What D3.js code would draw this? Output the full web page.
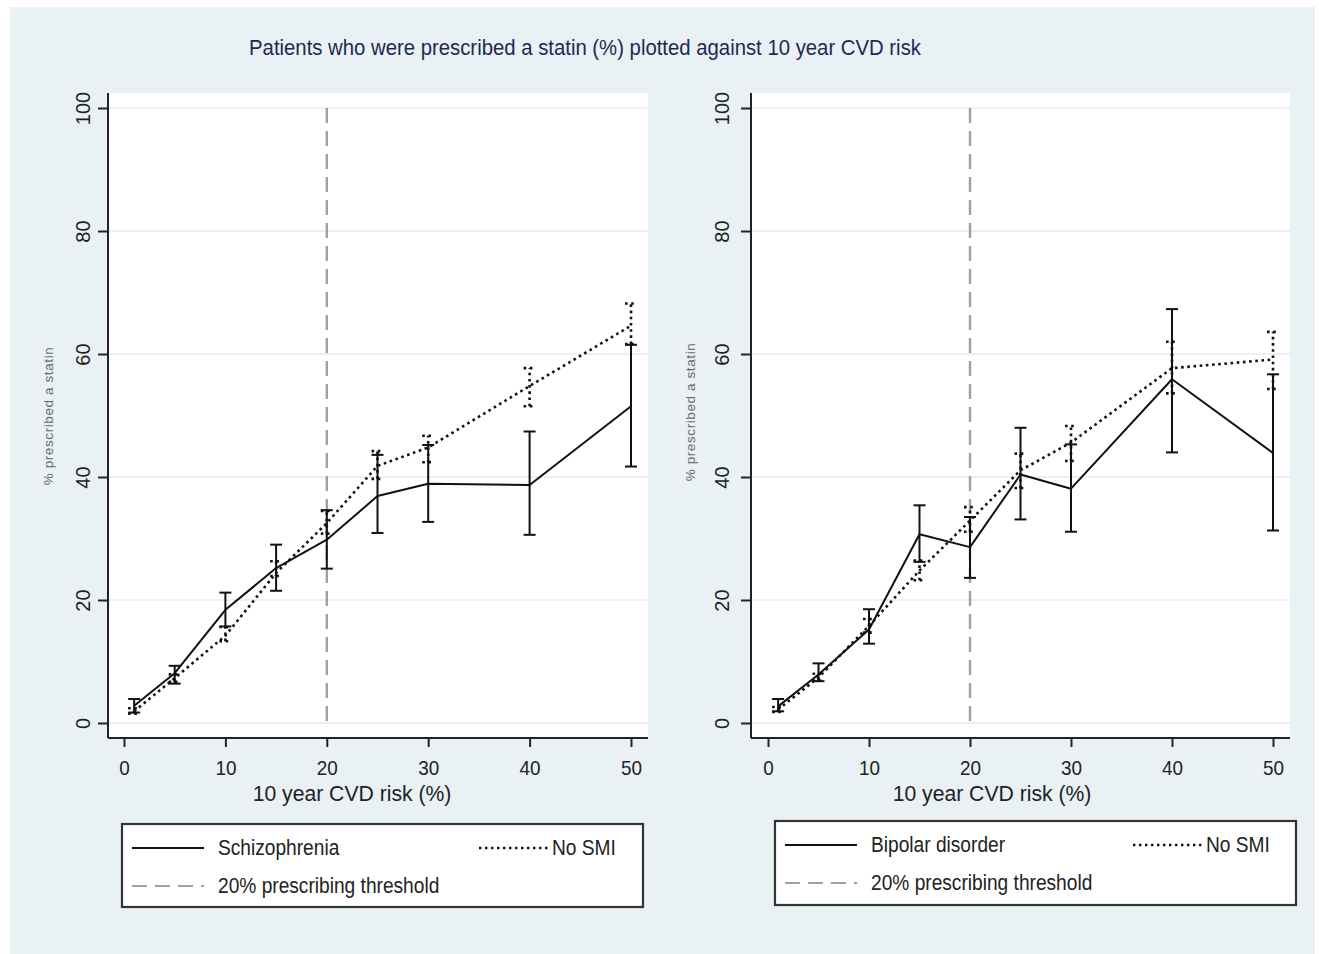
<!DOCTYPE html>
<html>
<head>
<meta charset="utf-8">
<script src="https://cdn.jsdelivr.net/npm/d3@7"></script>
<style>
  html, body { margin: 0; padding: 0; background: #ffffff; }
  svg { display: block; }
  text { font-family: "Liberation Sans", Arial, sans-serif; }
</style>
</head>
<body>
<svg id="chart" width="1319" height="954"></svg>
<script>
// 10-year CVD risk bands (%)
const riskBands = [1, 5, 10, 15, 20, 25, 30, 40, 50];
const xTicks = [0, 10, 20, 30, 40, 50];
const yTicks = [0, 20, 40, 60, 80, 100];
const threshold = 20;

// Schizophrenia vs no SMI: % prescribed a statin with 95% CI
const schizMean = [2.8, 8.1, 18.4, 25.2, 29.8, 36.9, 38.9, 38.7, 51.5];
const schizLow  = [1.7, 6.4, 15.7, 21.5, 25.1, 30.9, 32.7, 30.6, 41.7];
const schizHigh = [3.9, 9.3, 21.2, 29.0, 34.6, 43.6, 45.2, 47.4, 61.5];

const noSmiAMean = [1.9, 7.3, 14.2, 24.4, 32.5, 41.8, 44.8, 54.8, 64.6];
const noSmiALow  = [1.5, 6.7, 13.3, 23.9, 30.8, 39.7, 42.4, 51.5, 61.6];
const noSmiAHigh = [2.4, 7.9, 15.6, 26.3, 34.5, 44.2, 46.7, 57.7, 68.2];

// Bipolar disorder vs no SMI
const bipolarMean = [2.7, 7.9, 15.2, 30.7, 28.6, 40.4, 38.1, 55.9, 43.9];
const bipolarLow  = [1.9, 6.8, 12.9, 26.2, 23.6, 33.1, 31.1, 44.0, 31.3];
const bipolarHigh = [3.9, 9.7, 18.5, 35.4, 33.5, 48.0, 45.3, 67.3, 56.7];

const noSmiBMean = [2.2, 7.4, 15.8, 24.8, 32.9, 41.1, 45.6, 57.7, 59.1];
const noSmiBLow  = [1.8, 6.9, 14.7, 23.2, 31.1, 38.2, 42.6, 53.6, 54.3];
const noSmiBHigh = [2.6, 8.0, 16.9, 26.4, 35.1, 43.8, 48.3, 62.0, 63.6];

const svg = d3.select("#chart");

// outer panel
svg.append("rect").attr("x", 10).attr("y", 7).attr("width", 1305).attr("height", 947)
  .attr("fill", "#e9f1f4");

// condensed text helper: squeezes glyphs horizontally to a given factor
function narrowText(sel, factor) {
  sel.each(function () {
    const len = this.getComputedTextLength();
    d3.select(this).attr("textLength", len * factor).attr("lengthAdjust", "spacingAndGlyphs");
  });
}

const title = svg.append("text")
  .attr("x", 585).attr("y", 55)
  .attr("text-anchor", "middle")
  .attr("font-size", 21.5)
  .attr("fill", "#1f2a52")
  .text("Patients who were prescribed a statin (%) plotted against 10 year CVD risk");
narrowText(title, 0.945);

function drawPanel(cfg) {
  const g = svg.append("g");
  const x = d3.scaleLinear().domain([0, 50]).range([cfg.x0, cfg.x50]);
  const y = d3.scaleLinear().domain([0, 100]).range([723, 108]);

  // plot region
  g.append("rect").attr("x", cfg.left).attr("y", 93)
    .attr("width", cfg.right - cfg.left).attr("height", 738 - 93)
    .attr("fill", "#ffffff");

  // gridlines
  g.selectAll(".grid").data(yTicks).join("line")
    .attr("x1", cfg.left + 1).attr("x2", cfg.right)
    .attr("y1", d => y(d)).attr("y2", d => y(d))
    .attr("stroke", "#e9f1f4").attr("stroke-width", 2);

  // threshold line
  g.append("line")
    .attr("x1", x(threshold)).attr("x2", x(threshold))
    .attr("y1", y(100)).attr("y2", y(0))
    .attr("stroke", "#a0a0a0").attr("stroke-width", 2.4)
    .attr("stroke-dasharray", "15,8");

  // axes
  const yAxis = g.append("g")
    .attr("transform", `translate(${cfg.left},0)`)
    .call(d3.axisLeft(y).tickValues(yTicks).tickSize(10).tickSizeOuter(0).tickFormat(d3.format("d")));
  yAxis.select(".domain").attr("d", `M0,93V738`).attr("stroke", "#222").attr("stroke-width", 2);
  yAxis.selectAll(".tick line").attr("stroke", "#222").attr("stroke-width", 2);
  yAxis.selectAll(".tick text")
    .attr("x", null).attr("dy", null)
    .attr("transform", `translate(${cfg.yLabelX - cfg.left},0) rotate(-90)`)
    .attr("text-anchor", "middle")
    .attr("dominant-baseline", "central")
    .attr("font-size", 20)
    .attr("fill", "#222");

  const xAxis = g.append("g")
    .attr("transform", "translate(0,738)")
    .call(d3.axisBottom(x).tickValues(xTicks).tickSize(9).tickSizeOuter(0).tickFormat(d3.format("d")));
  xAxis.select(".domain").attr("d", `M${cfg.left},0H${cfg.right}`).attr("stroke", "#222").attr("stroke-width", 2);
  xAxis.selectAll(".tick line").attr("stroke", "#222").attr("stroke-width", 2);
  xAxis.selectAll(".tick text")
    .attr("y", 37).attr("dy", null)
    .attr("font-size", 21)
    .attr("fill", "#222")
    .call(narrowText, 0.9);

  // axis titles
  const xt = g.append("text")
    .attr("x", cfg.xTitleX).attr("y", 801)
    .attr("text-anchor", "middle")
    .attr("font-size", 22.5).attr("fill", "#222")
    .text("10 year CVD risk (%)");
  narrowText(xt, 0.94);

  g.append("text")
    .attr("transform", `translate(${cfg.yTitleX},${cfg.yTitleY}) rotate(-90)`)
    .attr("text-anchor", "middle")
    .attr("dominant-baseline", "central")
    .attr("font-size", 13.5).attr("fill", "#6a6a6a")
    .attr("letter-spacing", 0.6)
    .text("% prescribed a statin");

  // series
  const line = d3.line().x(d => x(d.r)).y(d => y(d.m));
  function series(mean, low, high, dotted) {
    const pts = riskBands.map((r, i) => ({ r, m: mean[i], lo: low[i], hi: high[i] }));
    const dash = dotted ? "2.6,3.6" : null;
    const w = dotted ? 2.6 : 2;
    const bars = g.append("g");
    bars.selectAll("line.v").data(pts).join("line")
      .attr("x1", d => x(d.r)).attr("x2", d => x(d.r))
      .attr("y1", d => y(d.lo)).attr("y2", d => y(d.hi))
      .attr("stroke", "#111").attr("stroke-width", w).attr("stroke-dasharray", dash);
    ["lo", "hi"].forEach(k => {
      bars.selectAll("line.c" + k).data(pts).join("line")
        .attr("x1", d => x(d.r) - 6).attr("x2", d => x(d.r) + 6)
        .attr("y1", d => y(d[k])).attr("y2", d => y(d[k]))
        .attr("stroke", "#111").attr("stroke-width", w).attr("stroke-dasharray", dash);
    });
    g.append("path").datum(pts).attr("d", line)
      .attr("fill", "none").attr("stroke", "#111").attr("stroke-width", w)
      .attr("stroke-dasharray", dash).attr("stroke-linejoin", "round");
  }
  series(cfg.smi[0], cfg.smi[1], cfg.smi[2], false);
  series(cfg.ref[0], cfg.ref[1], cfg.ref[2], true);

  // legend
  const L = cfg.legend;
  const lg = g.append("g");
  lg.append("rect").attr("x", L.x).attr("y", L.y).attr("width", L.w).attr("height", L.h)
    .attr("fill", "#ffffff").attr("stroke", "#333").attr("stroke-width", 2.2);
  const row1 = L.y + 24, row2 = L.y + 62;
  lg.append("line").attr("x1", L.x + 10).attr("x2", L.x + 82).attr("y1", row1).attr("y2", row1)
    .attr("stroke", "#111").attr("stroke-width", 2);
  lg.append("line").attr("x1", L.x + 10).attr("x2", L.x + 82).attr("y1", row2).attr("y2", row2)
    .attr("stroke", "#a0a0a0").attr("stroke-width", 2).attr("stroke-dasharray", "15,8");
  lg.append("line").attr("x1", L.dotX).attr("x2", L.dotX + 72).attr("y1", row1).attr("y2", row1)
    .attr("stroke", "#111").attr("stroke-width", 2.4).attr("stroke-dasharray", "2.4,3.6");
  const labels = [
    { t: cfg.smiName, x: L.x + 96, y: row1 + 7 },
    { t: "20% prescribing threshold", x: L.x + 96, y: row2 + 7 },
    { t: "No SMI", x: L.dotX + 73, y: row1 + 7 }
  ];
  lg.selectAll("text").data(labels).join("text")
    .attr("x", d => d.x).attr("y", d => d.y)
    .attr("font-size", 22).attr("fill", "#222")
    .text(d => d.t)
    .call(narrowText, 0.87);
}

drawPanel({
  left: 108, right: 648, x0: 124, x50: 631,
  yLabelX: 83, yTitleX: 48, yTitleY: 416, xTitleX: 352,
  smiName: "Schizophrenia",
  smi: [schizMean, schizLow, schizHigh],
  ref: [noSmiAMean, noSmiALow, noSmiAHigh],
  legend: { x: 122, y: 824, w: 521, h: 83, dotX: 479 }
});

drawPanel({
  left: 751, right: 1290, x0: 768, x50: 1273,
  yLabelX: 722, yTitleX: 690, yTitleY: 412, xTitleX: 992,
  smiName: "Bipolar disorder",
  smi: [bipolarMean, bipolarLow, bipolarHigh],
  ref: [noSmiBMean, noSmiBLow, noSmiBHigh],
  legend: { x: 775, y: 821, w: 521, h: 84, dotX: 1133 }
});
</script>
</body>
</html>
